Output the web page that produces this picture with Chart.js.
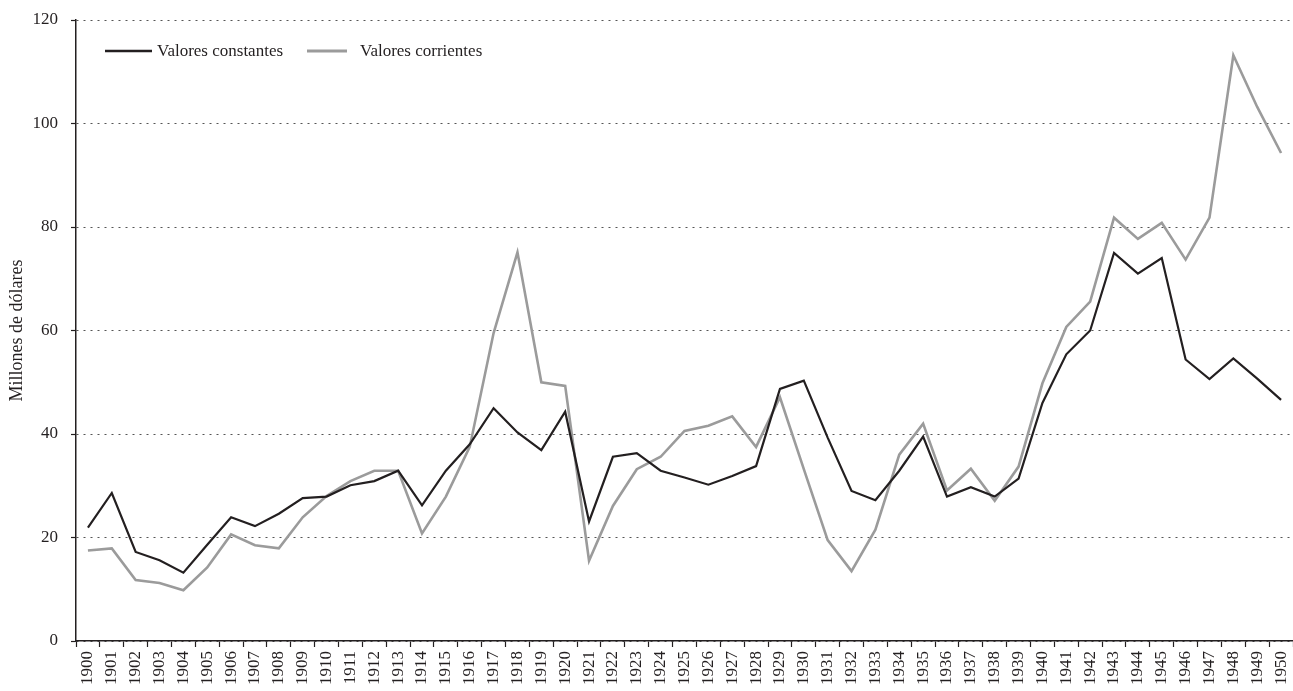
<!DOCTYPE html>
<html>
<head>
<meta charset="utf-8">
<script src="https://cdn.jsdelivr.net/npm/chart.js@4/dist/chart.umd.min.js"></script>
<style>
  html, body { margin: 0; padding: 0; background: #fff; }
  #wrap { width: 1293px; height: 691px; }
</style>
</head>
<body>
<div id="wrap"><canvas id="c" width="1293" height="691"></canvas></div>
<script>
const years = [];
for (let y = 1900; y <= 1950; y++) years.push(String(y));

const seriesNames = ["Valores constantes", "Valores corrientes"];

const valoresConstantes = [
  21.9, 28.6, 17.2, 15.6, 13.2, 18.6, 23.9, 22.2, 24.6, 27.6,
  27.9, 30.1, 30.9, 32.9, 26.2, 32.9, 38.0, 45.0, 40.3, 36.9,
  44.3, 23.1, 35.6, 36.3, 32.9, 31.6, 30.2, 31.9, 33.8, 48.7,
  50.3, 39.3, 29.0, 27.2, 32.9, 39.5, 27.9, 29.7, 27.9, 31.4,
  46.0, 55.4, 60.0, 75.0, 71.0, 74.0, 54.4, 50.6, 54.6, 50.7,
  46.6
];

const valoresCorrientes = [
  17.5, 17.9, 11.8, 11.2, 9.8, 14.2, 20.6, 18.5, 17.9, 23.9,
  28.0, 30.9, 32.9, 32.9, 20.8, 27.9, 37.5, 59.5, 75.1, 50.0,
  49.3, 15.5, 26.1, 33.2, 35.6, 40.6, 41.6, 43.4, 37.5, 47.1,
  33.2, 19.5, 13.5, 21.5, 36.0, 42.0, 29.1, 33.3, 27.1, 33.7,
  49.8, 60.7, 65.6, 81.8, 77.7, 80.8, 73.7, 81.8, 113.2, 103.2,
  94.3
];

const yTicks = [0, 20, 40, 60, 80, 100, 120];
const yTitle = "Millones de dólares";

const FONT = "'Liberation Serif', 'DejaVu Serif', serif";
const INK = '#231f20';
const GREY = '#9b9b9b';

const legendPlugin = {
  id: 'innerLegend',
  afterDraw(chart) {
    const ctx = chart.ctx;
    const ca = chart.chartArea;
    const items = chart.data.datasets.map(d => ({ text: d.label, color: d.borderColor }));
    const starts = [ca.left + 29, ca.left + 231];
    const y = ca.top + 31;
    ctx.save();
    ctx.font = '17px ' + FONT;
    ctx.textBaseline = 'middle';
    ctx.textAlign = 'left';
    items.forEach((it, i) => {
      const x = starts[i];
      const lineLen = i === 0 ? 47 : 40;
      ctx.strokeStyle = it.color;
      ctx.lineWidth = i === 0 ? 2.5 : 3;
      ctx.beginPath();
      ctx.moveTo(x, y);
      ctx.lineTo(x + lineLen, y);
      ctx.stroke();
      ctx.fillStyle = INK;
      ctx.fillText(it.text, x + lineLen + (i === 0 ? 5 : 13), y + 1);
    });
    ctx.restore();
  }
};

new Chart(document.getElementById('c'), {
  type: 'line',
  data: {
    labels: years,
    datasets: [
      {
        label: seriesNames[0],
        data: valoresConstantes,
        borderColor: INK,
        borderWidth: 2.2,
        pointRadius: 0,
        tension: 0,
        fill: false
      },
      {
        label: seriesNames[1],
        data: valoresCorrientes,
        borderColor: GREY,
        borderWidth: 2.6,
        pointRadius: 0,
        tension: 0,
        fill: false
      }
    ]
  },
  options: {
    responsive: false,
    devicePixelRatio: 1,
    animation: false,
    layout: { padding: { top: 20, right: 0, bottom: 0, left: 0 } },
    plugins: {
      legend: { display: false },
      tooltip: { enabled: false },
      title: { display: false }
    },
    scales: {
      x: {
        type: 'category',
        offset: true,
        grid: {
          display: true,
          offset: true,
          drawOnChartArea: false,
          drawTicks: true,
          tickLength: 6,
          tickColor: INK,
          tickWidth: 1.2
        },
        border: { display: true, color: INK, width: 1.5 },
        ticks: {
          autoSkip: false,
          minRotation: 90,
          maxRotation: 90,
          padding: 4,
          color: INK,
          font: { family: FONT, size: 17 }
        },
        afterFit(scale) {
          scale.height = 50;
          scale.paddingLeft = 0;
          scale.paddingRight = 0;
        }
      },
      y: {
        min: 0,
        max: 120,
        afterBuildTicks(scale) { scale.ticks = yTicks.map(v => ({ value: v })); },
        grid: {
          color: '#555',
          lineWidth: 1,
          drawTicks: true,
          tickLength: 5,
          tickColor: INK,
          tickWidth: 1.2
        },
        border: { display: true, color: INK, width: 1.5, dash: [2, 5] },
        ticks: {
          padding: 13,
          color: INK,
          font: { family: FONT, size: 17 }
        },
        title: {
          display: true,
          text: yTitle,
          color: INK,
          font: { family: FONT, size: 18 },
          padding: { top: 6, bottom: 0 }
        },
        afterFit(scale) {
          scale.width = 76;
          scale.paddingTop = 0;
          scale.paddingBottom = 0;
        }
      }
    }
  },
  plugins: [legendPlugin]
});
</script>
</body>
</html>
